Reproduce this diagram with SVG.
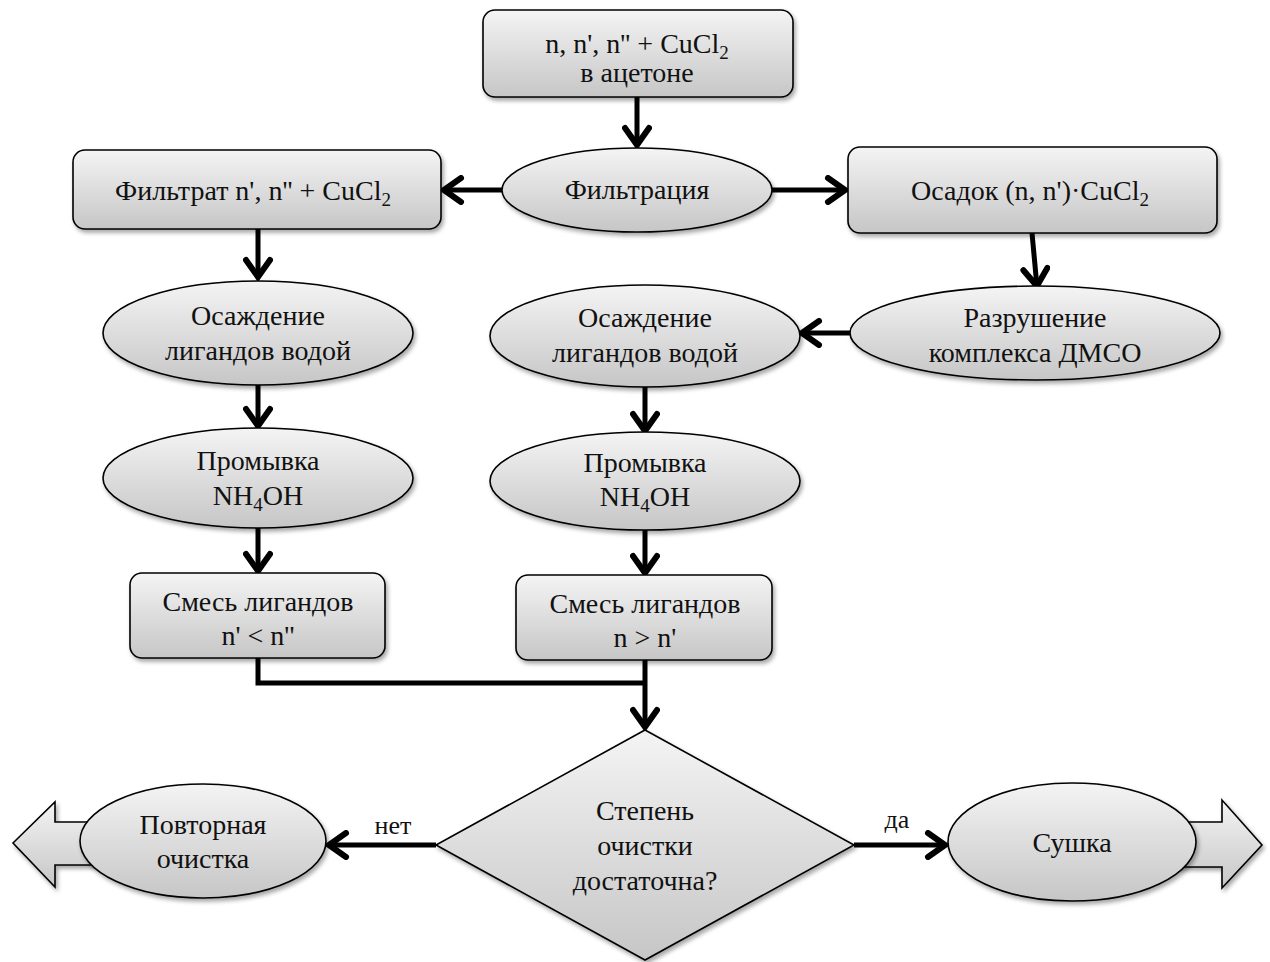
<svg xmlns="http://www.w3.org/2000/svg" width="1270" height="962" viewBox="0 0 1270 962">
<defs>
<linearGradient id="g" x1="0" y1="0" x2="0" y2="1">
<stop offset="0" stop-color="#f4f4f4"/>
<stop offset="1" stop-color="#c6c6c6"/>
</linearGradient>
<filter id="sh" x="-10%" y="-10%" width="125%" height="130%">
<feDropShadow dx="2" dy="3" stdDeviation="2" flood-color="#000" flood-opacity="0.35"/>
</filter>
<marker id="ah" viewBox="0 0 26 30" refX="22" refY="15" markerWidth="26" markerHeight="30" markerUnits="userSpaceOnUse" orient="auto">
<path d="M4,3 L21,15 L4,27" fill="none" stroke="#000" stroke-width="6" stroke-linecap="round"/>
</marker>
</defs>
<style>
.n{fill:url(#g);stroke:#000;stroke-width:1.6;filter:url(#sh)}
.t{font-family:"Liberation Serif","Times New Roman",serif;font-size:28px;fill:#111;text-anchor:middle}
.l{font-family:"Liberation Serif","Times New Roman",serif;font-size:26px;fill:#111;text-anchor:middle}
.c{fill:none;stroke:#000;stroke-width:5}
</style>
<rect width="1270" height="962" fill="#fff"/>

<g id="edges">
<line class="c" x1="637" y1="97" x2="637" y2="146" marker-end="url(#ah)"/>
<line class="c" x1="502" y1="190" x2="443" y2="190" marker-end="url(#ah)"/>
<line class="c" x1="772" y1="190" x2="846" y2="190" marker-end="url(#ah)"/>
<line class="c" x1="258" y1="229" x2="258" y2="278" marker-end="url(#ah)"/>
<line class="c" x1="258" y1="385" x2="258" y2="427" marker-end="url(#ah)"/>
<line class="c" x1="258" y1="528" x2="258" y2="572" marker-end="url(#ah)"/>
<line class="c" x1="1032" y1="233" x2="1037" y2="287" marker-end="url(#ah)"/>
<line class="c" x1="850" y1="333" x2="801" y2="333" marker-end="url(#ah)"/>
<line class="c" x1="645" y1="387" x2="645" y2="432" marker-end="url(#ah)"/>
<line class="c" x1="645" y1="530" x2="645" y2="574" marker-end="url(#ah)"/>
<polyline class="c" points="258,658 258,683 645,683"/>
<line class="c" x1="645" y1="660" x2="645" y2="728" marker-end="url(#ah)"/>
<line class="c" x1="436" y1="845" x2="328" y2="845" marker-end="url(#ah)"/>
<line class="c" x1="854" y1="845" x2="946" y2="845" marker-end="url(#ah)"/>
<text class="l" x="393" y="834">нет</text>
<text class="l" x="897" y="828">да</text>
</g>

<g id="start">
<rect class="n" x="483" y="10" width="310" height="87" rx="12"/>
<text class="t" x="637" y="53">n, n', n'' + CuCl<tspan font-size="19" dy="6">2</tspan></text>
<text class="t" x="637" y="82">в ацетоне</text>
</g>

<g id="filtration">
<ellipse class="n" cx="637" cy="190" rx="135" ry="42"/>
<text class="t" x="637" y="199">Фильтрация</text>
</g>

<g id="filtrate">
<rect class="n" x="73" y="150" width="368" height="79" rx="12"/>
<text class="t" x="253" y="200">Фильтрат n', n'' + CuCl<tspan font-size="19" dy="6">2</tspan></text>
</g>

<g id="precipitate">
<rect class="n" x="848" y="147" width="369" height="86" rx="12"/>
<text class="t" x="1030" y="200">Осадок (n, n')·CuCl<tspan font-size="19" dy="6">2</tspan></text>
</g>

<g id="precip-left">
<ellipse class="n" cx="258" cy="333" rx="155" ry="52"/>
<text class="t" x="258" y="325">Осаждение</text>
<text class="t" x="258" y="360">лигандов водой</text>
</g>

<g id="wash-left">
<ellipse class="n" cx="258" cy="478" rx="155" ry="50"/>
<text class="t" x="258" y="470">Промывка</text>
<text class="t" x="258" y="505">NH<tspan font-size="19" dy="6">4</tspan><tspan dy="-6">OH</tspan></text>
</g>

<g id="mix-left">
<rect class="n" x="130" y="573" width="255" height="85" rx="12"/>
<text class="t" x="258" y="611">Смесь лигандов</text>
<text class="t" x="258" y="645">n' &lt; n''</text>
</g>

<g id="destroy">
<ellipse class="n" cx="1035" cy="333" rx="185" ry="47"/>
<text class="t" x="1035" y="327">Разрушение</text>
<text class="t" x="1035" y="362">комплекса ДМСО</text>
</g>

<g id="precip-right">
<ellipse class="n" cx="645" cy="336" rx="155" ry="51"/>
<text class="t" x="645" y="327">Осаждение</text>
<text class="t" x="645" y="362">лигандов водой</text>
</g>

<g id="wash-right">
<ellipse class="n" cx="645" cy="481" rx="155" ry="49"/>
<text class="t" x="645" y="472">Промывка</text>
<text class="t" x="645" y="506">NH<tspan font-size="19" dy="6">4</tspan><tspan dy="-6">OH</tspan></text>
</g>

<g id="mix-right">
<rect class="n" x="516" y="575" width="256" height="85" rx="12"/>
<text class="t" x="645" y="613">Смесь лигандов</text>
<text class="t" x="645" y="647">n &gt; n'</text>
</g>

<g id="decision">
<polygon class="n" points="645,730 854,845 645,960 436,845"/>
<text class="t" x="645" y="820">Степень</text>
<text class="t" x="645" y="855">очистки</text>
<text class="t" x="645" y="890">достаточна?</text>
</g>

<g id="repeat">
<polygon class="n" points="13,843 55,802 55,822 120,822 120,865 55,865 55,887"/>
<ellipse class="n" cx="203" cy="841" rx="123" ry="57"/>
<text class="t" x="203" y="834">Повторная</text>
<text class="t" x="203" y="868">очистка</text>
</g>

<g id="dry">
<polygon class="n" points="1262,845 1222,800 1222,822 1150,822 1150,867 1222,867 1222,888"/>
<ellipse class="n" cx="1072" cy="842" rx="124" ry="59"/>
<text class="t" x="1072" y="852">Сушка</text>
</g>
</svg>
